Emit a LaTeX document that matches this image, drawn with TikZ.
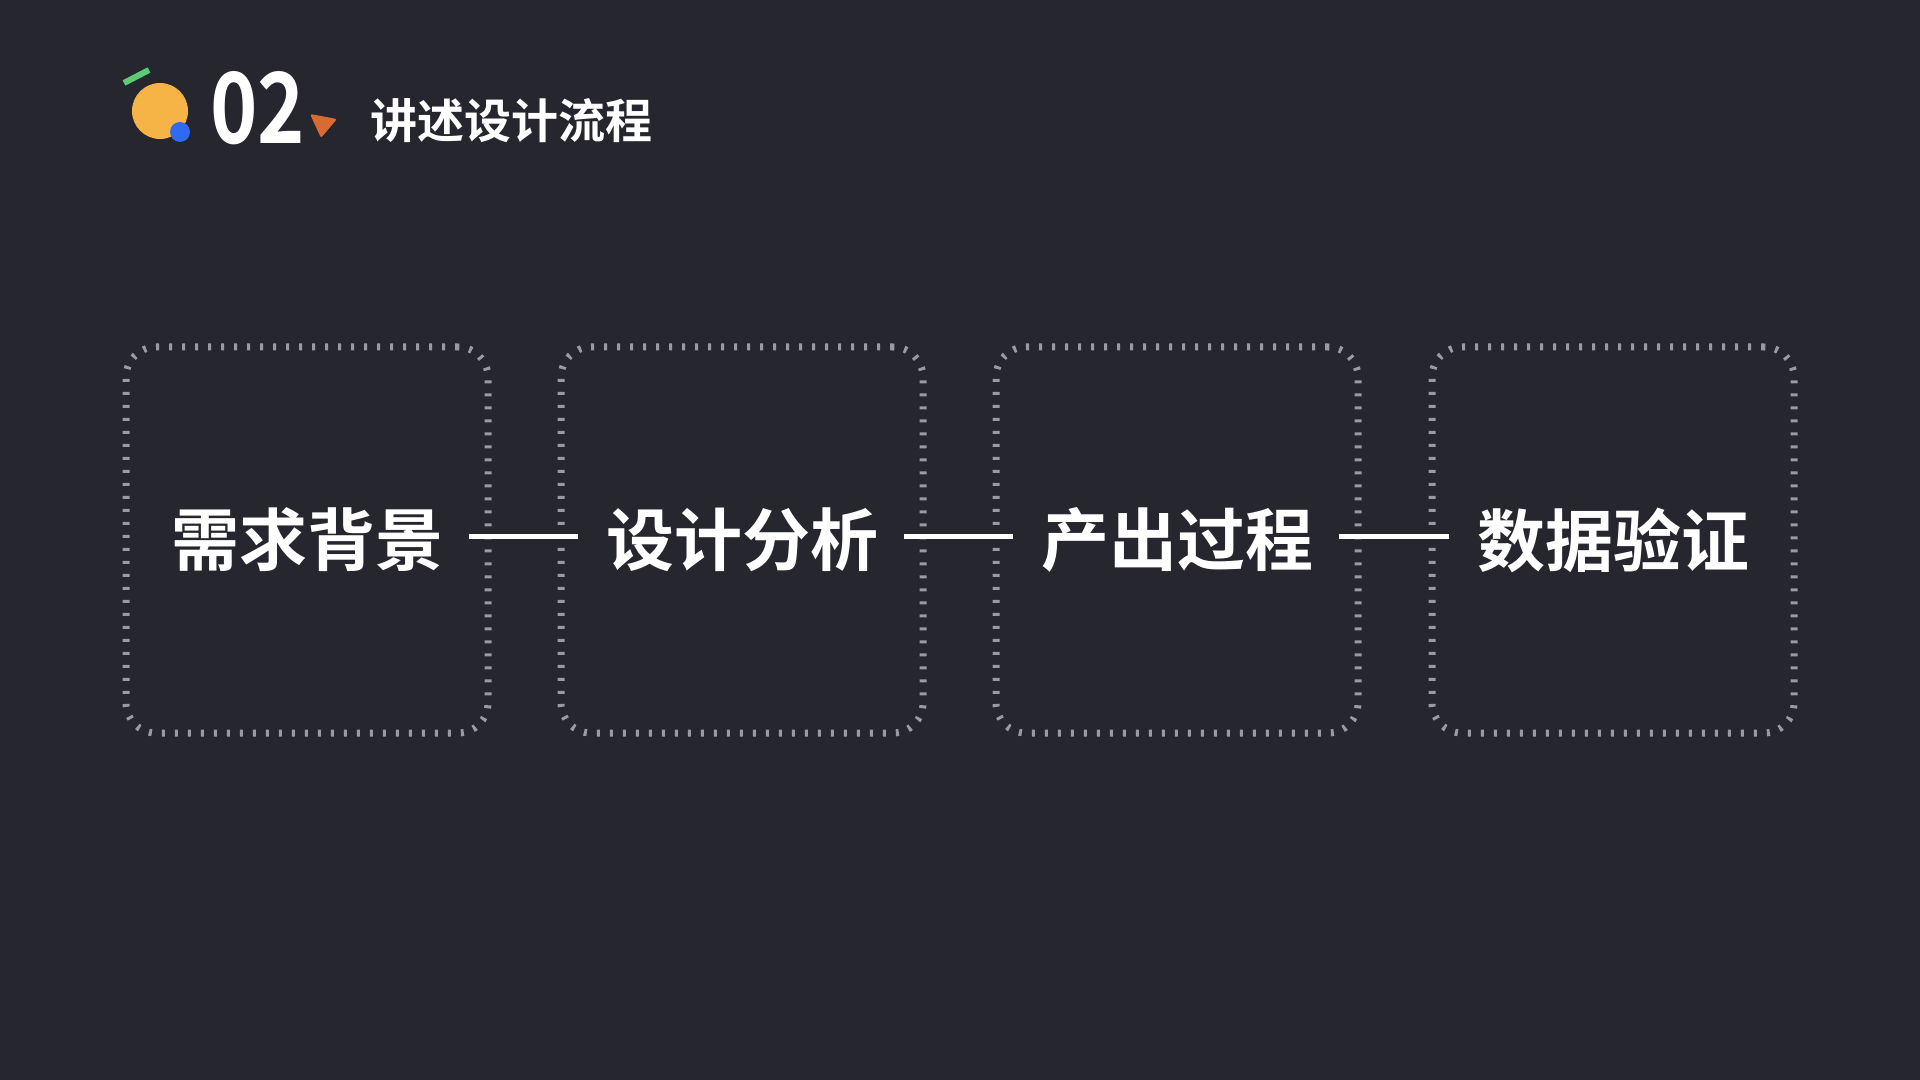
\documentclass[tikz,border=0pt]{standalone}
\usepackage{fontspec}
\setmainfont{Noto Sans CJK SC}
\newfontfamily\cjkbold{Noto Sans CJK SC Bold}
\usetikzlibrary{calc}
\definecolor{bgdark}{HTML}{25262E}
\definecolor{dotgray}{HTML}{9A9AA0}
\definecolor{sunyellow}{HTML}{F5B445}
\definecolor{dotblue}{HTML}{2F6BF0}
\definecolor{bargreen}{HTML}{5BCB77}
\definecolor{triorange}{HTML}{D86A32}
\tikzset{
  stagebox/.style={draw=dotgray, line width=3.5pt, dash pattern=on 1.5pt off 5pt,
    rounded corners=15pt, minimum width=181pt, minimum height=193pt,
    text=white, font=\cjkbold\fontsize{34}{40}\selectfont, inner sep=0pt},
  joinline/.style={draw=white, line width=2.5pt}
}
\begin{document}
\begin{tikzpicture}[x=0.5pt, y=-0.5pt]
  \fill[bgdark] (0,0) rectangle (1920,1080);

  % header mark
  \draw[bargreen, line width=3pt] (124,83) -- (149,70);
  \fill[sunyellow] (160,111) circle (28);
  \fill[dotblue] (180,132) circle (10);
  \fill[triorange, rounded corners=1pt] (310,114) -- (337,119) -- (321,138) -- cycle;
  \node[anchor=west, text=white, font=\cjkbold\fontsize{49}{56}\selectfont, inner sep=0pt, xscale=0.82] (num) at (210,108) {02};
  \node[anchor=west, text=white, font=\cjkbold\fontsize{23.5}{28}\selectfont, inner sep=0pt] (title) at (370,121) {讲述设计流程};

  % stages
  \node[stagebox] (b1) at (307,540) {需求背景};
  \node[stagebox] (b2) at (742,540) {设计分析};
  \node[stagebox] (b3) at (1177,540) {产出过程};
  \node[stagebox] (b4) at (1613,540) {数据验证};

  \foreach \a/\b in {b1/b2, b2/b3, b3/b4}
    \draw[joinline] ($(\a.east)+(-23,-4)$) -- ($(\b.west)+(20,-4)$);
\end{tikzpicture}
\end{document}
